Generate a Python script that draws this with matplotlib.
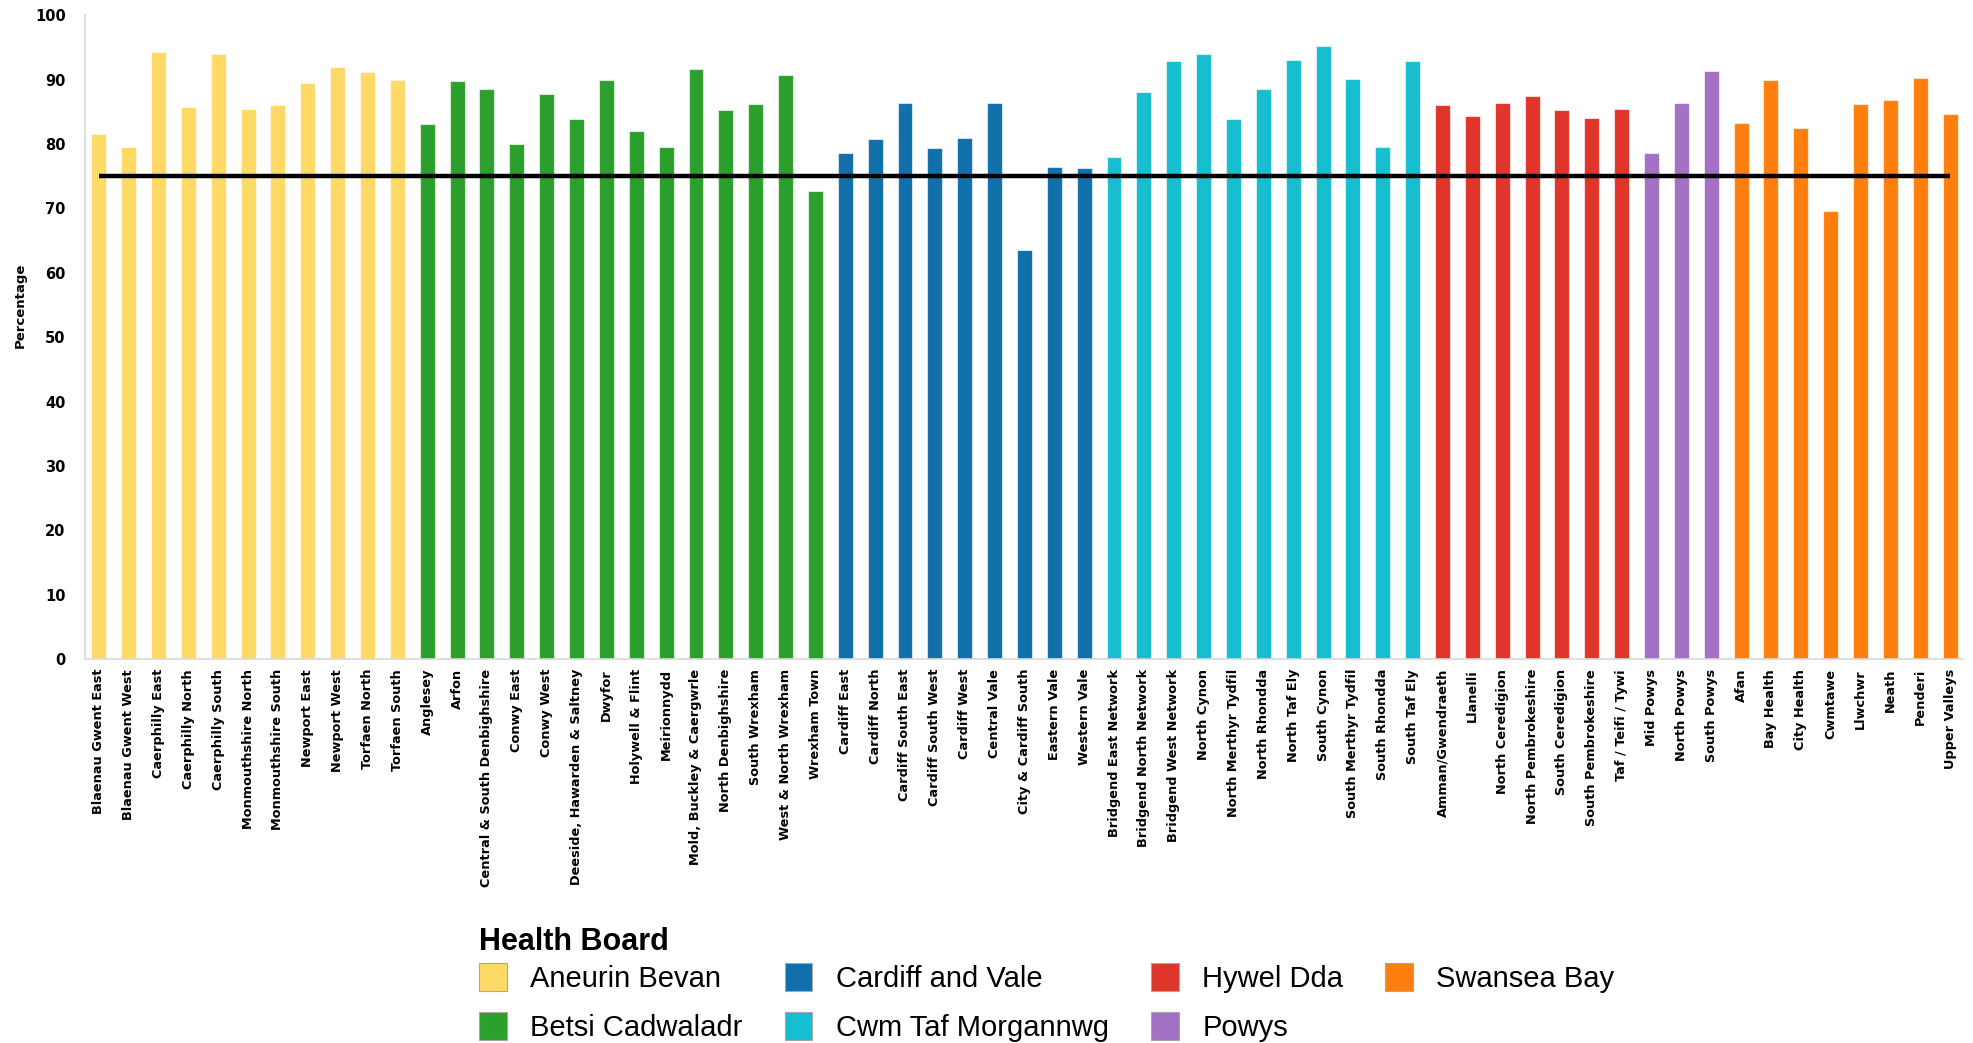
import matplotlib
matplotlib.use("Agg")
import matplotlib.pyplot as plt
from matplotlib.patches import Patch

# Cluster names and percentages, grouped by health board
aneurin_bevan = ["Blaenau Gwent East", "Blaenau Gwent West", "Caerphilly East", "Caerphilly North",
                 "Caerphilly South", "Monmouthshire North", "Monmouthshire South", "Newport East",
                 "Newport West", "Torfaen North", "Torfaen South"]
aneurin_bevan_vals = [81.5, 79.6, 94.2, 85.8, 93.9, 85.4, 86.0, 89.4, 91.9, 91.2, 89.9]

betsi_cadwaladr = ["Anglesey", "Arfon", "Central & South Denbighshire", "Conwy East", "Conwy West",
                   "Deeside, Hawarden & Saltney", "Dwyfor", "Holywell & Flint", "Meirionnydd",
                   "Mold, Buckley & Caergwrle", "North Denbighshire", "South Wrexham",
                   "West & North Wrexham", "Wrexham Town"]
betsi_cadwaladr_vals = [83.1, 89.7, 88.5, 80.0, 87.8, 83.8, 89.9, 82.0, 79.6, 91.7, 85.2, 86.2, 90.7, 72.7]

cardiff_vale = ["Cardiff East", "Cardiff North", "Cardiff South East", "Cardiff South West",
                "Cardiff West", "Central Vale", "City & Cardiff South", "Eastern Vale", "Western Vale"]
cardiff_vale_vals = [78.6, 80.7, 86.4, 79.3, 80.9, 86.4, 63.6, 76.4, 76.2]

cwm_taf = ["Bridgend East Network", "Bridgend North Network", "Bridgend West Network", "North Cynon",
           "North Merthyr Tydfil", "North Rhondda", "North Taf Ely", "South Cynon",
           "South Merthyr Tydfil", "South Rhondda", "South Taf Ely"]
cwm_taf_vals = [77.9, 88.0, 92.8, 93.9, 83.8, 88.5, 93.0, 95.2, 90.1, 79.5, 92.8]

hywel_dda = ["Amman/Gwendraeth", "Llanelli", "North Ceredigion", "North Pembrokeshire",
             "South Ceredigion", "South Pembrokeshire", "Taf / Teifi / Tywi"]
hywel_dda_vals = [86.0, 84.3, 86.4, 87.4, 85.2, 84.0, 85.4]

powys = ["Mid Powys", "North Powys", "South Powys"]
powys_vals = [78.6, 86.4, 91.3]

swansea_bay = ["Afan", "Bay Health", "City Health", "Cwmtawe", "Llwchwr", "Neath", "Penderi",
               "Upper Valleys"]
swansea_bay_vals = [83.3, 89.9, 82.4, 69.6, 86.2, 86.8, 90.3, 84.7]

board_names = ["Aneurin Bevan", "Betsi Cadwaladr", "Cardiff and Vale", "Cwm Taf Morgannwg",
               "Hywel Dda", "Powys", "Swansea Bay"]
board_colors = ["#FFD966", "#2CA02C", "#1170AA", "#17BECF", "#E0352A", "#A470C4", "#FF7F0E"]

wales_average = 75

groups = [
    (aneurin_bevan, aneurin_bevan_vals),
    (betsi_cadwaladr, betsi_cadwaladr_vals),
    (cardiff_vale, cardiff_vale_vals),
    (cwm_taf, cwm_taf_vals),
    (hywel_dda, hywel_dda_vals),
    (powys, powys_vals),
    (swansea_bay, swansea_bay_vals),
]

labels, values, colors = [], [], []
for (names, vals), col in zip(groups, board_colors):
    labels += names
    values += vals
    colors += [col] * len(names)

fig = plt.figure(figsize=(19.73, 10.43), dpi=100)
ax = fig.add_axes([0.0431, 0.368, 0.9518, 0.6175])

x = list(range(len(labels)))
ax.bar(x, values, width=0.5, color=colors, edgecolor=(1, 1, 1, 0.6), linewidth=0.8, zorder=2)
ax.plot([x[0], x[-1]], [wales_average, wales_average], color="black", lw=3.2,
        solid_capstyle="butt", zorder=3)

ax.set_xlim(-0.46, len(labels) - 1 + 0.43)
ax.set_ylim(0, 100)
ax.set_yticks(range(0, 101, 10))
ax.set_xticks(x)
ax.set_xticklabels(labels, rotation=90, fontsize=9.3, fontweight="bold", family="DejaVu Sans")
for lab in ax.get_yticklabels():
    lab.set_fontweight("bold")
    lab.set_fontsize(10.5)
ax.tick_params(axis="y", length=0, pad=14)
ax.tick_params(axis="x", length=0, pad=7)

for side in ("top", "right"):
    ax.spines[side].set_visible(False)
for side in ("left", "bottom"):
    ax.spines[side].set_color("#D9D9D9")
    ax.spines[side].set_linewidth(1.2)

ax.set_ylabel("Percentage", fontsize=9.5, fontweight="bold")
ax.yaxis.set_label_coords(-0.031, 0.55)

# Legend: title placed as its own text, entries in four columns below it
legend_font = ["Liberation Sans Narrow", "Liberation Sans"]
fig.text(0.2428, 0.0968, "Health Board", fontsize=22, fontweight="bold", family=legend_font,
         ha="left", va="center")

handles = [Patch(facecolor=c, edgecolor="#A6A6A6", linewidth=0.8, label=n)
           for n, c in zip(board_names, board_colors)]
fig.legend(handles=handles, ncol=4, loc="upper left", bbox_to_anchor=(0.2428, 0.077),
           frameon=False, prop={"family": legend_font, "size": 21},
           handlelength=0.95, handleheight=1.1, handletextpad=0.8,
           columnspacing=1.45, labelspacing=0.68, borderaxespad=0, borderpad=0)

fig.savefig("out.png", dpi=100)
